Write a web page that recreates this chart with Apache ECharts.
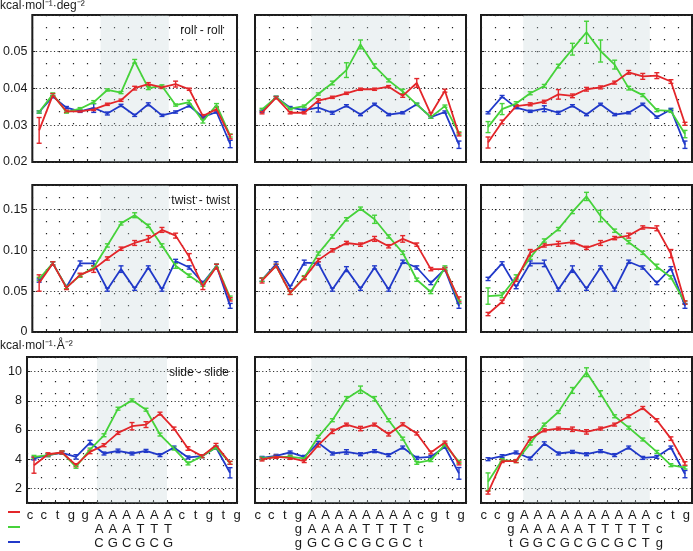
<!DOCTYPE html>
<html><head><meta charset="utf-8">
<script src="https://cdn.jsdelivr.net/npm/echarts@6/dist/echarts.min.js"></script>
<style>html,body{margin:0;padding:0;background:#fff}#c{width:693px;height:551px}</style>
</head><body><div id="c"></div><script>
// ---- data ----
const steps = [1,2,3,4,5,6,7,8,9,10,11,12,13,14,15];

const roll1Red   = [0.0286,0.0382,0.0338,0.0338,0.0343,0.0357,0.0368,0.0401,0.0412,0.0403,0.0412,0.0398,0.0325,0.0344,0.0269];
const roll1Green = [0.0336,0.0384,0.0336,0.0345,0.0363,0.0396,0.0389,0.0474,0.0401,0.0407,0.0355,0.0363,0.0311,0.0355,0.0272];
const roll1Blue  = [0.0336,0.0378,0.0348,0.0338,0.0347,0.0332,0.0354,0.0327,0.0357,0.0327,0.0336,0.0353,0.0322,0.0336,0.0249];
const roll2Red   = [0.0334,0.0375,0.0334,0.0334,0.0367,0.0376,0.0387,0.0398,0.0398,0.0405,0.0380,0.0415,0.0330,0.0394,0.0275];
const roll2Green = [0.0343,0.0376,0.0345,0.0352,0.0385,0.0415,0.0450,0.0520,0.0461,0.0422,0.0392,0.0357,0.0322,0.0352,0.0278];
const roll2Blue  = [0.0338,0.0376,0.0348,0.0341,0.0348,0.0334,0.0353,0.0329,0.0357,0.0329,0.0334,0.0357,0.0322,0.0336,0.0247];
const roll3Red   = [0.0253,0.0309,0.0352,0.0357,0.0364,0.0384,0.0380,0.0398,0.0403,0.0416,0.0444,0.0433,0.0435,0.0419,0.0304];
const roll3Green = [0.0295,0.0344,0.0359,0.0387,0.0407,0.0461,0.0507,0.0553,0.0502,0.0465,0.0401,0.0382,0.0341,0.0339,0.0276];
const roll3Blue  = [0.0334,0.0378,0.0348,0.0338,0.0345,0.0334,0.0353,0.0329,0.0357,0.0329,0.0334,0.0357,0.0322,0.0343,0.0247];

const roll1RedErr   = [0.0035,0.0004,0.0003,0.0002,0.0003,0.0003,0.0003,0.0005,0.0004,0.0003,0.0008,0.0003,0.0004,0.0005,0.0006];
const roll1GreenErr = [0.0003,0.0004,0.0003,0.0003,0.0004,0.0003,0.0003,0.0005,0.0004,0.0003,0.0003,0.0005,0.0005,0.0004,0.0004];
const roll1BlueErr  = [0.0003,0.0003,0.0003,0.0003,0.0012,0.0004,0.0003,0.0003,0.0004,0.0003,0.0003,0.0003,0.0003,0.0003,0.0010];
const roll2RedErr   = [0.0003,0.0003,0.0003,0.0003,0.0005,0.0003,0.0003,0.0003,0.0003,0.0003,0.0004,0.0012,0.0004,0.0004,0.0004];
const roll2GreenErr = [0.0003,0.0003,0.0003,0.0003,0.0003,0.0005,0.0020,0.0012,0.0006,0.0004,0.0006,0.0003,0.0003,0.0003,0.0004];
const roll2BlueErr  = [0.0003,0.0003,0.0003,0.0003,0.0012,0.0004,0.0003,0.0003,0.0003,0.0003,0.0003,0.0003,0.0003,0.0003,0.0010];
const roll3RedErr   = [0.0015,0.0005,0.0004,0.0004,0.0004,0.0013,0.0005,0.0005,0.0004,0.0004,0.0005,0.0008,0.0008,0.0005,0.0004];
const roll3GreenErr = [0.0015,0.0015,0.0005,0.0004,0.0004,0.0005,0.0016,0.0030,0.0030,0.0012,0.0005,0.0004,0.0004,0.0004,0.0010];
const roll3BlueErr  = [0.0003,0.0003,0.0003,0.0003,0.0008,0.0004,0.0003,0.0003,0.0003,0.0003,0.0003,0.0003,0.0003,0.0003,0.0010];

const twist1Red   = [0.060,0.084,0.054,0.070,0.077,0.090,0.102,0.109,0.114,0.125,0.118,0.092,0.056,0.080,0.040];
const twist1Green = [0.065,0.084,0.055,0.069,0.079,0.106,0.133,0.143,0.130,0.106,0.081,0.069,0.058,0.081,0.042];
const twist1Blue  = [0.063,0.084,0.055,0.084,0.084,0.052,0.077,0.053,0.079,0.052,0.087,0.079,0.060,0.081,0.032];
const twist2Red   = [0.063,0.081,0.048,0.066,0.088,0.100,0.109,0.107,0.114,0.105,0.114,0.107,0.077,0.077,0.040];
const twist2Green = [0.064,0.081,0.048,0.067,0.096,0.117,0.138,0.151,0.138,0.117,0.097,0.064,0.049,0.079,0.037];
const twist2Blue  = [0.064,0.083,0.055,0.085,0.084,0.052,0.077,0.053,0.079,0.052,0.086,0.079,0.060,0.077,0.032];
const twist3Red   = [0.022,0.037,0.064,0.097,0.106,0.108,0.110,0.103,0.109,0.115,0.118,0.128,0.127,0.096,0.036];
const twist3Green = [0.044,0.045,0.067,0.091,0.112,0.126,0.147,0.166,0.142,0.124,0.110,0.097,0.080,0.067,0.036];
const twist3Blue  = [0.065,0.084,0.055,0.084,0.084,0.052,0.077,0.053,0.079,0.052,0.086,0.079,0.060,0.078,0.032];

const twist1RedErr   = [0.010,0.002,0.002,0.002,0.004,0.002,0.002,0.003,0.004,0.003,0.003,0.004,0.004,0.003,0.002];
const twist1GreenErr = [0.002,0.002,0.002,0.002,0.002,0.002,0.002,0.003,0.002,0.002,0.003,0.002,0.002,0.002,0.002];
const twist1BlueErr  = [0.002,0.002,0.002,0.003,0.003,0.002,0.004,0.002,0.002,0.002,0.002,0.002,0.002,0.002,0.003];
const twist2RedErr   = [0.003,0.002,0.002,0.002,0.002,0.002,0.002,0.002,0.003,0.002,0.004,0.002,0.002,0.002,0.003];
const twist2GreenErr = [0.002,0.002,0.002,0.002,0.002,0.002,0.002,0.002,0.005,0.002,0.002,0.002,0.002,0.002,0.002];
const twist2BlueErr  = [0.002,0.003,0.002,0.003,0.002,0.002,0.003,0.002,0.002,0.002,0.002,0.002,0.002,0.002,0.003];
const twist3RedErr   = [0.002,0.002,0.002,0.004,0.002,0.003,0.002,0.002,0.003,0.002,0.003,0.002,0.003,0.005,0.002];
const twist3GreenErr = [0.010,0.003,0.003,0.002,0.002,0.002,0.002,0.005,0.007,0.002,0.002,0.002,0.003,0.002,0.002];
const twist3BlueErr  = [0.002,0.002,0.002,0.003,0.004,0.002,0.004,0.002,0.002,0.002,0.002,0.002,0.002,0.002,0.003];

const slide1Red   = [3.59,4.34,4.46,3.59,4.50,4.96,5.80,6.26,6.37,7.12,6.10,4.73,4.21,4.96,3.75];
const slide1Green = [4.16,4.28,4.46,3.48,4.66,5.64,7.46,8.03,7.39,5.69,4.73,3.71,4.21,4.80,3.75];
const slide1Blue  = [4.05,4.28,4.44,4.16,5.14,4.39,4.57,4.39,4.57,4.28,4.80,4.12,4.21,4.80,3.07];
const slide2Red   = [3.98,4.16,4.09,3.87,4.96,5.91,6.37,6.10,6.37,5.71,6.39,5.76,4.46,5.14,3.71];
const slide2Green = [4.05,4.16,4.16,4.05,5.53,6.67,8.14,8.76,8.14,6.67,5.41,3.75,3.94,5.00,3.82];
const slide2Blue  = [4.09,4.23,4.46,4.16,5.12,4.39,4.50,4.34,4.55,4.28,4.80,4.09,4.16,4.85,3.03];
const slide3Red   = [1.71,3.87,3.87,5.41,5.98,6.10,6.05,5.87,6.10,6.37,6.94,7.51,6.67,5.41,3.71];
const slide3Green = [2.46,3.94,3.87,5.07,6.37,7.23,8.71,9.96,8.49,6.94,6.16,5.35,4.50,3.59,3.43];
const slide3Blue  = [4.00,4.21,4.46,4.05,5.07,4.39,4.50,4.34,4.55,4.28,4.80,4.09,4.16,4.80,2.98];

const slide1RedErr   = [0.55,0.10,0.10,0.10,0.12,0.10,0.10,0.25,0.20,0.10,0.10,0.12,0.10,0.12,0.10];
const slide1GreenErr = [0.10,0.10,0.10,0.10,0.10,0.10,0.10,0.10,0.10,0.10,0.10,0.10,0.10,0.10,0.10];
const slide1BlueErr  = [0.10,0.10,0.10,0.15,0.15,0.10,0.12,0.10,0.10,0.10,0.10,0.10,0.10,0.10,0.35];
const slide2RedErr   = [0.10,0.10,0.10,0.10,0.12,0.15,0.10,0.15,0.10,0.12,0.10,0.10,0.10,0.10,0.10];
const slide2GreenErr = [0.10,0.10,0.10,0.10,0.10,0.10,0.15,0.25,0.15,0.10,0.10,0.10,0.10,0.10,0.10];
const slide2BlueErr  = [0.10,0.10,0.10,0.10,0.10,0.10,0.15,0.10,0.10,0.10,0.10,0.10,0.10,0.10,0.40];
const slide3RedErr   = [0.10,0.10,0.10,0.12,0.10,0.10,0.15,0.15,0.10,0.10,0.10,0.10,0.10,0.12,0.12];
const slide3GreenErr = [0.60,0.10,0.10,0.10,0.10,0.10,0.20,0.30,0.20,0.10,0.10,0.10,0.10,0.10,0.10];
const slide3BlueErr  = [0.10,0.10,0.10,0.10,0.12,0.10,0.10,0.10,0.10,0.10,0.10,0.10,0.10,0.10,0.25];

// shaded tract ranges (axis units, steps shifted by -0.5)
const shade1 = [5, 10];
const shade2 = [4, 11];
const shade3 = [3, 12];

// sequences under each column
const seq1Red   = ['c','c','t','g','g','A','A','A','A','A','A','c','t','g','t','g'];
const seq1Green = ['','','','','','A','A','A','T','T','T','','','','',''];
const seq1Blue  = ['','','','','','C','G','C','G','C','G','','','','',''];
const seq2Red   = ['c','c','t','g','A','A','A','A','A','A','A','A','c','g','t','g'];
const seq2Green = ['','','','g','A','A','A','A','T','T','T','T','c','','',''];
const seq2Blue  = ['','','','g','G','C','G','C','G','C','G','C','t','','',''];
const seq3Red   = ['c','c','g','A','A','A','A','A','A','A','A','A','A','c','t','g'];
const seq3Green = ['','','g','A','A','A','A','A','T','T','T','T','T','c','',''];
const seq3Blue  = ['','','t','G','G','C','G','C','G','C','G','C','T','g','',''];

const yTicksRoll  = {min: 0.02, max: 0.06, interval: 0.01};
const yTicksTwist = {min: 0, max: 0.18, interval: 0.05};
const yTicksSlide = {min: 1, max: 11, splitNumber: 5};

const rowLabels = ['roll - roll', 'twist - twist', 'slide - slide'];
const unitRoll  = 'kcal·mol⁻¹·deg⁻²';
const unitSlide = 'kcal·mol⁻¹·Å⁻²';

// ---- build ----
const C_RED = '#e3262a', C_GREEN = '#46d23a', C_BLUE = '#2139c9';
const NAME_RED = 'A-tract', NAME_GREEN = 'A/T', NAME_BLUE = 'G/C';
const FONT = '"Liberation Sans", Arial, sans-serif';

const panelData = [
  [[roll1Red,roll1RedErr,roll1Green,roll1GreenErr,roll1Blue,roll1BlueErr],
   [roll2Red,roll2RedErr,roll2Green,roll2GreenErr,roll2Blue,roll2BlueErr],
   [roll3Red,roll3RedErr,roll3Green,roll3GreenErr,roll3Blue,roll3BlueErr]],
  [[twist1Red,twist1RedErr,twist1Green,twist1GreenErr,twist1Blue,twist1BlueErr],
   [twist2Red,twist2RedErr,twist2Green,twist2GreenErr,twist2Blue,twist2BlueErr],
   [twist3Red,twist3RedErr,twist3Green,twist3GreenErr,twist3Blue,twist3BlueErr]],
  [[slide1Red,slide1RedErr,slide1Green,slide1GreenErr,slide1Blue,slide1BlueErr],
   [slide2Red,slide2RedErr,slide2Green,slide2GreenErr,slide2Blue,slide2BlueErr],
   [slide3Red,slide3RedErr,slide3Green,slide3GreenErr,slide3Blue,slide3BlueErr]]
];
const shades = [shade1, shade2, shade3];
const yTicks = [yTicksRoll, yTicksTwist, yTicksSlide];
const yFmt = [v => v.toFixed(2), v => (v === 0 ? '0' : v.toFixed(2)), v => String(v)];
const seqs = [[seq1Red,seq1Green,seq1Blue],[seq2Red,seq2Green,seq2Blue],[seq3Red,seq3Green,seq3Blue]];

const colLeft = [27, 255, 481], colWidth = [210, 211, 211];
const rowTop = [15, 185, 357], rowHeight = [147, 147, 146];
const labLeft = [23, 251, 477], labWidth = [221, 217, 219];

function renderErr(params, api) {
  const x = api.value(0), y = api.value(1), e = api.value(2);
  const t = api.coord([x, y + e]), b = api.coord([x, y - e]);
  const w = 2.5;
  const style = { stroke: api.visual('color'), lineWidth: 1.4 };
  return { type: 'group', children: [
    { type: 'line', shape: { x1: t[0], y1: t[1], x2: b[0], y2: b[1] }, style },
    { type: 'line', shape: { x1: t[0]-w, y1: t[1], x2: t[0]+w, y2: t[1] }, style },
    { type: 'line', shape: { x1: b[0]-w, y1: b[1], x2: b[0]+w, y2: b[1] }, style }
  ]};
}

const grid = [], xAxis = [], yAxis = [], series = [];
for (let r = 0; r < 3; r++) {
  for (let c = 0; c < 3; c++) {
    const g = grid.length;
    grid.push({ left: colLeft[c], top: rowTop[r], width: colWidth[c], height: rowHeight[r],
      show: true, borderColor: '#1b1b1b', borderWidth: 2, backgroundColor: 'transparent' });
    xAxis.push({ gridIndex: g, type: 'value', min: 0, max: 15, interval: 1,
      axisLine: { show: false }, axisLabel: { show: false },
      axisTick: { show: true, inside: true, length: 3, lineStyle: { color: '#222' } },
      splitLine: { show: true, lineStyle: { color: '#222', width: 1.2, type: [1.3, 10.7] } } });
    const yt = yTicks[r];
    yAxis.push(Object.assign({ gridIndex: g, type: 'value', scale: true,
      axisLine: { show: false },
      axisTick: { show: true, inside: true, length: 3, lineStyle: { color: '#222' } },
      axisLabel: { show: c === 0, formatter: yFmt[r], fontSize: 12.5, color: '#1a1a1a', margin: 5,
        fontFamily: FONT, showMaxLabel: false, showMinLabel: r === 2 ? false : true },
      splitLine: { show: true, lineStyle: { color: '#333', width: 1, type: [1.2, 2.4] } } }, yt));
    const [red, redE, green, greenE, blue, blueE] = panelData[r][c];
    // shaded tract (translucent so the dotted grid stays visible)
    series.push({ type: 'line', xAxisIndex: g, yAxisIndex: g, data: [], z: -1, silent: true,
      markArea: { silent: true, itemStyle: { color: 'rgba(195,212,214,0.3)' },
        data: [[{ xAxis: shades[c][0] }, { xAxis: shades[c][1] }]] } });
    [[NAME_BLUE, C_BLUE, blue, blueE], [NAME_GREEN, C_GREEN, green, greenE], [NAME_RED, C_RED, red, redE]]
      .forEach(([name, col, vals, errs]) => {
        series.push({ type: 'line', name, xAxisIndex: g, yAxisIndex: g,
          data: steps.map((s, i) => [s - 0.5, vals[i]]),
          symbol: 'none', lineStyle: { color: col, width: 1.8 }, itemStyle: { color: col },
          animation: false });
        series.push({ type: 'custom', name, xAxisIndex: g, yAxisIndex: g,
          data: steps.map((s, i) => [s - 0.5, vals[i], errs[i]]),
          encode: { x: 0, y: 1 }, renderItem: renderErr, itemStyle: { color: col },
          animation: false });
      });
  }
}
// sequence label grids under the bottom row
for (let c = 0; c < 3; c++) {
  const g = grid.length;
  grid.push({ left: labLeft[c], top: rowTop[2], width: labWidth[c], height: rowHeight[2], show: false });
  yAxis.push({ gridIndex: g, type: 'value', show: false });
  seqs[c].forEach((seq, k) => {
    xAxis.push({ gridIndex: g, type: 'category', data: seq, position: 'bottom', offset: k * 14,
      axisLine: { show: false }, axisTick: { show: false }, splitLine: { show: false },
      axisLabel: { interval: 0, margin: 6, fontSize: 13, color: '#1a1a1a', fontFamily: FONT } });
  });
}

const title = [
  { text: unitRoll, left: 0, top: 0 },
  { text: unitSlide, left: 0, top: 340 },
  { text: rowLabels[0], right: 470, top: 25 },
  { text: rowLabels[1], right: 463, top: 195 },
  { text: rowLabels[2], right: 464, top: 367 }
].map(t => Object.assign({ padding: 0, textStyle: { fontSize: 12, fontWeight: 'normal', color: '#1a1a1a', fontFamily: FONT } }, t));

const chart = echarts.init(document.getElementById('c'), null, { renderer: 'canvas' });
chart.setOption({
  animation: false,
  textStyle: { fontFamily: FONT },
  title,
  legend: { data: [NAME_RED, NAME_GREEN, NAME_BLUE], orient: 'vertical', left: 8, top: 511,
    padding: 0, icon: 'rect', itemWidth: 12, itemHeight: 2, itemGap: 13, formatter: () => '',
    textStyle: { fontSize: 2, lineHeight: 2 }, selectedMode: false },
  grid, xAxis, yAxis, series
});
</script></body></html>
